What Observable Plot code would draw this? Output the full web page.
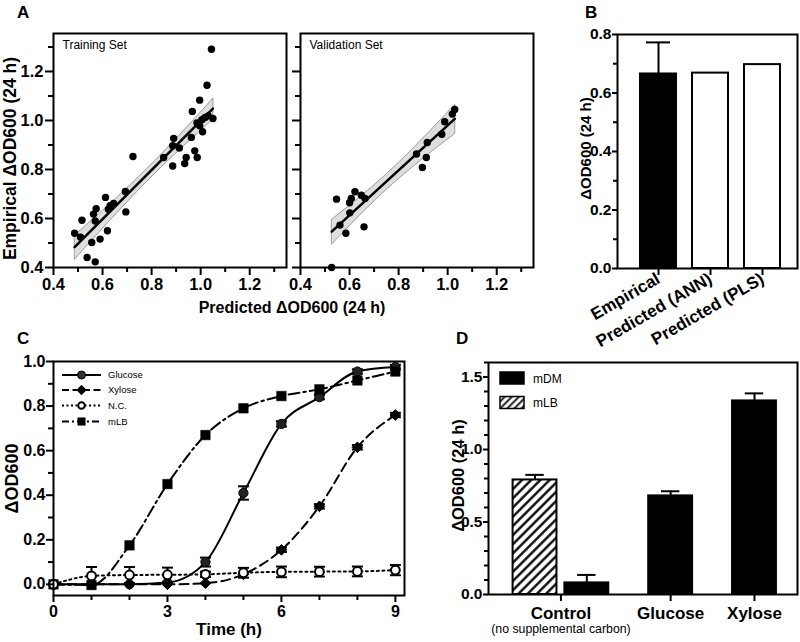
<!DOCTYPE html>
<html><head><meta charset="utf-8">
<script src="https://cdn.jsdelivr.net/npm/d3@7"></script>
<script src="https://cdn.jsdelivr.net/npm/@observablehq/plot@0.6"></script>
<style>
html,body{margin:0;padding:0;background:#fff;}
#fig{position:relative;width:800px;height:642px;overflow:hidden;background:#fff;font-family:"Liberation Sans",Arial,Helvetica,sans-serif;}
#fig > svg{position:absolute;}
</style></head><body><div id="fig"></div>
<script>
// ---------- Panel A data ----------
const trainPredicted = [0.486,0.516,0.510,0.537,0.570,0.556,0.563,0.574,0.570,0.590,0.612,0.620,0.624,0.631,0.645,0.693,0.695,0.724,0.849,0.890,0.886,0.886,0.913,0.935,0.941,0.962,0.966,0.976,0.986,0.996,0.996,1.005,1.008,1.026,1.031,1.044,1.050,1.018,0.985];
const trainEmpirical = [0.540,0.593,0.524,0.441,0.423,0.502,0.618,0.640,0.590,0.516,0.686,0.550,0.638,0.652,0.661,0.710,0.627,0.853,0.849,0.927,0.897,0.814,0.888,0.824,0.849,0.931,1.037,0.876,0.849,1.083,0.978,1.003,0.954,1.144,1.019,1.291,1.008,1.012,0.990];
const valPredicted = [0.527,0.547,0.561,0.585,0.600,0.607,0.601,0.622,0.648,0.663,0.659,0.873,0.897,0.913,0.917,0.976,0.988,1.019,1.029];
const valEmpirical = [0.400,0.679,0.573,0.540,0.664,0.682,0.623,0.709,0.695,0.682,0.566,0.863,0.808,0.849,0.910,0.944,0.995,1.026,1.045];
const aMajorTicks = [0.4,0.6,0.8,1.0,1.2];
const aMinorTicks = [0.5,0.7,0.9,1.1,1.3];

// ---------- Panel B data ----------
const bCategories = ["Empirical","Predicted (ANN)","Predicted (PLS)"];
const bValues = [0.665,0.668,0.697];
const bErrors = [0.108,0,0];
const bMajorTicks = [0,0.2,0.4,0.6,0.8];
const bMinorTicks = [0.1,0.3,0.5,0.7];

// ---------- Panel C data ----------
const hours = [0,1,2,3,4,5,6,7,8,9];
const glucose = [0,0,0,0.008,0.10,0.41,0.72,0.84,0.955,0.975];
const glucoseErr = [0,0,0,0,0.02,0.03,0.012,0.01,0.01,0.01];
const xylose = [0,0,0,0,0.005,0.045,0.155,0.35,0.615,0.76];
const xyloseErr = [0,0,0,0,0,0,0.01,0.01,0.01,0.01];
const nc = [0,0.038,0.042,0.043,0.045,0.052,0.056,0.057,0.058,0.064];
const ncErr = [0,0.04,0.036,0.032,0.012,0.022,0.024,0.022,0.022,0.023];
const mlb = [0,-0.003,0.175,0.45,0.67,0.79,0.845,0.875,0.915,0.955];
const mlbErr = [0,0,0,0,0,0,0,0,0,0];
const cSeriesNames = ["Glucose","Xylose","N.C.","mLB"];
const cXMajor = [0,3,6,9], cXMinor = [1,2,4,5,7,8];
const cYMajor = [0,0.2,0.4,0.6,0.8,1.0], cYMinor = [0.1,0.3,0.5,0.7,0.9];

// ---------- Panel D data ----------
const dGroups = ["Control","Glucose","Xylose"];
const dGroupMedia = [["mLB","mDM"],["mDM"],["mDM"]];
const dValues = [[0.79,0.08],[0.68],[1.335]];
const dErrors = [[0.035,0.055],[0.032],[0.052]];
const dYMajor = [0,0.5,1.0,1.5];
const dYMinor = [0.1,0.2,0.3,0.4,0.6,0.7,0.8,0.9,1.1,1.2,1.3,1.4,1.6];

// ---------- helpers ----------
const FONT = '"Liberation Sans", Arial, Helvetica, sans-serif';
const baseStyle = {fontFamily: FONT, fontSize: "16px", fontWeight: "bold", background: "transparent", color: "black", overflow: "visible"};
const fig = document.getElementById("fig");
function place(svg, left, top) { svg.style.left = left + "px"; svg.style.top = top + "px"; fig.appendChild(svg); return svg; }
const blank = () => "";
function yAxes(major, minor, fmt, o) {
  return [
    Plot.axisY({ticks: major, tickSize: o.size, tickPadding: o.pad, strokeWidth: 2, tickFormat: fmt, label: null, fontSize: o.font, fontWeight: "bold"}),
    Plot.axisY({ticks: minor, tickSize: o.minor, strokeWidth: 2, tickFormat: blank, label: null})
  ];
}
function xAxes(major, minor, fmt, o) {
  return [
    Plot.axisX({ticks: major, tickSize: o.size, tickPadding: o.pad, strokeWidth: 2, tickFormat: fmt, label: null, fontSize: o.font, fontWeight: "bold"}),
    Plot.axisX({ticks: minor, tickSize: o.minor, strokeWidth: 2, tickFormat: blank, label: null})
  ];
}
function outlineBand(svg) {
  d3.select(svg).selectAll('g[aria-label="linear-regression"] path').each(function() {
    if (this.getAttribute("fill") !== "none") {
      this.setAttribute("stroke", "#777");
      this.setAttribute("stroke-width", "0.7");
    }
  });
}

// ---------- Panel A ----------
function panelA(pred, emp, title, showY, width, ml, mr) {
  const data = pred.map((p, i) => ({predicted: p, empirical: emp[i]}));
  const ax = {size: 8, pad: 2, minor: 5, font: 16.5};
  const marks = [
    Plot.linearRegressionY(data, {x: "predicted", y: "empirical", ci: 0.95, fill: "#dedede", fillOpacity: 1, stroke: "black", strokeWidth: 2.5}),
    Plot.dot(data, {x: "predicted", y: "empirical", r: 3.7, fill: "black"}),
    Plot.frame({strokeWidth: 2}),
    ...xAxes(aMajorTicks, aMinorTicks, ".1f", {...ax, pad: 3}),
    ...yAxes(aMajorTicks, aMinorTicks, showY ? ".1f" : blank, ax),
    Plot.text([title], {frameAnchor: "top-left", textAnchor: "start", lineAnchor: "middle", dx: 9, dy: 12, fontSize: 12, fontWeight: "normal"})
  ];
  if (showY) marks.push(Plot.text(["Empirical ΔOD600 (24 h)"], {frameAnchor: "left", rotate: -90, textAnchor: "middle", lineAnchor: "middle", dx: -43, dy: 8, fontSize: 17.5}));
  const svg = Plot.plot({
    width, height: 320, marginLeft: ml, marginRight: mr, marginTop: 33, marginBottom: 53,
    style: baseStyle,
    x: {domain: [0.4, 1.35], label: null},
    y: {domain: [0.4, 1.355], label: null},
    marks
  });
  outlineBand(svg);
  return svg;
}
place(panelA(trainPredicted, trainEmpirical, "Training Set", true, 290, 53, 4), 0, 0);
place(panelA(valPredicted, valEmpirical, "Validation Set", false, 250, 10, 7), 290, 0);

// ---------- Panel B ----------
{
  const bData = bCategories.map((c, i) => ({category: c, value: bValues[i], err: bErrors[i]}));
  const withErr = bData.filter(d => d.err > 0);
  const svg = Plot.plot({
    width: 260, height: 330, marginLeft: 77, marginRight: 3, marginTop: 34, marginBottom: 62,
    style: baseStyle,
    x: {domain: bCategories, padding: 0.31, insetLeft: 6, insetRight: 1, label: null},
    y: {domain: [0, 0.8], label: null},
    marks: [
      Plot.ruleX(withErr, {x: "category", y1: "value", y2: d => d.value + d.err, strokeWidth: 2}),
      Plot.tickY(withErr, {x: "category", y: d => d.value + d.err, strokeWidth: 2, insetLeft: 6, insetRight: 6}),
      Plot.barY(bData.filter((d, i) => i === 0), {x: "category", y: "value", fill: "black", stroke: "black", strokeWidth: 2}),
      Plot.barY(bData.filter((d, i) => i > 0), {x: "category", y: "value", fill: "white", stroke: "black", strokeWidth: 2}),
      Plot.frame({strokeWidth: 2}),
      Plot.axisX({tickRotate: -30, tickSize: 7, tickPadding: 2, strokeWidth: 2, fontSize: 17, fontWeight: "bold", label: null}),
      ...yAxes(bMajorTicks, bMinorTicks, ".1f", {size: 5, pad: 1, minor: 4, font: 15.5}),
      Plot.text(["ΔOD600 (24 h)"], {frameAnchor: "left", rotate: -90, textAnchor: "middle", lineAnchor: "middle", dx: -31, dy: -3, fontSize: 15})
    ]
  });
  place(svg, 540, 0);
}

// ---------- Panel C ----------
{
  const seriesVals = [glucose, xylose, nc, mlb];
  const seriesErr = [glucoseErr, xyloseErr, ncErr, mlbErr];
  const cData = cSeriesNames.flatMap((s, k) => hours.map((t, i) => ({series: s, t, v: seriesVals[k][i], e: seriesErr[k][i]})));
  const of = s => cData.filter(d => d.series === s);
  const errData = cData.filter(d => d.e > 0);
  const cap = {draw(ctx) { ctx.moveTo(-5.5, 0); ctx.lineTo(5.5, 0); }};
  const svg = Plot.plot({
    width: 420, height: 322, marginLeft: 53, marginRight: 16, marginTop: 41, marginBottom: 47,
    style: baseStyle,
    x: {domain: [0, 9.24], label: null},
    y: {domain: [-0.05, 1.0], label: null},
    marks: [
      Plot.line(of("Glucose"), {x: "t", y: "v", curve: "monotone-x", strokeWidth: 2}),
      Plot.line(of("Xylose"), {x: "t", y: "v", curve: "monotone-x", strokeWidth: 2, strokeDasharray: "9,5"}),
      Plot.line(of("N.C."), {x: "t", y: "v", curve: "monotone-x", strokeWidth: 2, strokeDasharray: "2,3.5"}),
      Plot.line(of("mLB"), {x: "t", y: "v", curve: "monotone-x", strokeWidth: 2, strokeDasharray: "11,4,2.5,4"}),
      Plot.ruleX(errData, {x: "t", y1: d => d.v - d.e, y2: d => d.v + d.e, strokeWidth: 2}),
      Plot.dot(errData, {x: "t", y: d => d.v + d.e, symbol: cap, fill: "none", stroke: "black", strokeWidth: 2}),
      Plot.dot(errData, {x: "t", y: d => d.v - d.e, symbol: cap, fill: "none", stroke: "black", strokeWidth: 2}),
      Plot.dot(of("Glucose"), {x: "t", y: "v", r: 4.6, fill: "#222", stroke: "black", strokeWidth: 1}),
      Plot.dot(of("Xylose"), {x: "t", y: "v", symbol: "diamond2", r: 4.8, fill: "black", stroke: "black", strokeWidth: 1}),
      Plot.dot(of("mLB"), {x: "t", y: "v", symbol: "square", r: 5.4, fill: "black", stroke: "black", strokeWidth: 0.5}),
      Plot.dot(of("N.C."), {x: "t", y: "v", r: 4.4, fill: "white", stroke: "black", strokeWidth: 2}),
      Plot.frame({strokeWidth: 2}),
      ...xAxes(cXMajor, cXMinor, d => String(d), {size: 7, pad: 3, minor: 5, font: 16}),
      ...yAxes(cYMajor, cYMinor, ".1f", {size: 7, pad: 1, minor: 5, font: 16}),
      Plot.text(["ΔOD600"], {frameAnchor: "left", rotate: -90, textAnchor: "middle", lineAnchor: "middle", dx: -41, fontSize: 18}),
      Plot.text(["Time (h)"], {frameAnchor: "bottom", lineAnchor: "middle", dy: 34, fontSize: 17})
    ]
  });
  place(svg, 0, 320);
}

// ---------- Panel D ----------
{
  const OUTER_L = 0.56, INNER = 0.18, GROUP_GAP = 0.91, OUTER_R = 0.48;
  let pos = OUTER_L;
  const dBars = [], dCenters = [];
  dGroups.forEach((g, gi) => {
    const start = pos;
    dGroupMedia[gi].forEach((m, mi) => {
      dBars.push({group: g, medium: m, value: dValues[gi][mi], err: dErrors[gi][mi], x1: pos, x2: pos + 1});
      pos += 1 + INNER;
    });
    pos -= INNER;
    dCenters.push((start + pos) / 2);
    pos += GROUP_GAP;
  });
  const dTotal = pos - GROUP_GAP + OUTER_R;
  const mid = d => (d.x1 + d.x2) / 2;
  const svg = Plot.plot({
    width: 380, height: 322, marginLeft: 68, marginRight: 3, marginTop: 42, marginBottom: 48,
    style: baseStyle,
    x: {domain: [0, dTotal], label: null},
    y: {domain: [0, 1.6], label: null},
    marks: [
      Plot.ruleX(dBars, {x: mid, y1: "value", y2: d => d.value + d.err, strokeWidth: 2}),
      Plot.ruleY(dBars, {y: d => d.value + d.err, x1: d => mid(d) - 0.21, x2: d => mid(d) + 0.21, strokeWidth: 2}),
      Plot.rectY(dBars.filter(d => d.medium === "mDM"), {x1: "x1", x2: "x2", y1: 0, y2: "value", fill: "black", stroke: "black", strokeWidth: 2}),
      Plot.rectY(dBars.filter(d => d.medium === "mLB"), {x1: "x1", x2: "x2", y1: 0, y2: "value", fill: "url(#hatchD)", stroke: "black", strokeWidth: 2}),
      Plot.frame({strokeWidth: 2}),
      Plot.axisX({ticks: dCenters, tickFormat: d => dGroups[dCenters.indexOf(d)], tickSize: 7, tickPadding: 5, strokeWidth: 2, fontSize: 17, fontWeight: "bold", label: null}),
      ...yAxes(dYMajor, dYMinor, ".1f", {size: 5, pad: 1, minor: 4, font: 15.5}),
      Plot.text(["(no supplemental carbon)"], {x: dCenters[0], frameAnchor: "bottom", lineAnchor: "middle", dy: 35, fontSize: 12.3, fontWeight: "normal"}),
      Plot.text(["ΔOD600 (24 h)"], {frameAnchor: "left", rotate: -90, textAnchor: "middle", lineAnchor: "middle", dx: -30, dy: -3, fontSize: 16.5})
    ]
  });
  d3.select(svg).insert("defs", ":first-child").html(
    '<pattern id="hatchD" patternUnits="userSpaceOnUse" width="6.5" height="6.5" patternTransform="rotate(45)">' +
    '<rect width="6.5" height="6.5" fill="white"/><line x1="3.25" y1="0" x2="3.25" y2="6.5" stroke="black" stroke-width="2.3"/></pattern>');
  place(svg, 420, 320);
}

// ---------- Overlay: panel letters, shared label, legends ----------
{
  const ov = d3.select(fig).append("svg").attr("width", 800).attr("height", 642)
    .style("left", "0px").style("top", "0px").style("pointer-events", "none")
    .style("font-family", FONT);
  ov.append("defs").html(
    '<pattern id="hatchL" patternUnits="userSpaceOnUse" width="5" height="5" patternTransform="rotate(45)">' +
    '<rect width="5" height="5" fill="white"/><line x1="2.5" y1="0" x2="2.5" y2="5" stroke="black" stroke-width="1.8"/></pattern>');
  const letters = [["A", 17, 18], ["B", 585, 18], ["C", 17, 344], ["D", 456, 344]];
  letters.forEach(([t, x, y]) => ov.append("text").attr("x", x).attr("y", y).attr("font-size", 17).attr("font-weight", "bold").text(t));
  ov.append("text").attr("x", 292).attr("y", 313).attr("text-anchor", "middle").attr("font-size", 16).attr("font-weight", "bold").text("Predicted ΔOD600 (24 h)");

  // Panel C legend
  const legC = [
    {name: cSeriesNames[0], dash: null, sym: d3.symbolCircle, size: Math.PI * 16, fill: "#333", sw: 1},
    {name: cSeriesNames[1], dash: "7,3.5", sym: d3.symbolDiamond2, size: Math.PI * 18, fill: "black", sw: 1},
    {name: cSeriesNames[2], dash: "2,2.5", sym: d3.symbolCircle, size: Math.PI * 11, fill: "white", sw: 2},
    {name: cSeriesNames[3], dash: "7,3,2,3", sym: d3.symbolSquare, size: Math.PI * 18, fill: "black", sw: 0.5}
  ];
  const rowY = [375, 390, 405.5, 421.5];
  legC.forEach((l, i) => {
    const y = rowY[i];
    const line = ov.append("line").attr("x1", 62).attr("x2", 101).attr("y1", y).attr("y2", y).attr("stroke", "black").attr("stroke-width", 2);
    if (l.dash) line.attr("stroke-dasharray", l.dash);
    ov.append("path").attr("d", d3.symbol(l.sym, l.size)()).attr("transform", `translate(81.5,${y})`)
      .attr("fill", l.fill).attr("stroke", "black").attr("stroke-width", l.sw);
    ov.append("text").attr("x", 108).attr("y", y + 3.4).attr("font-size", 9.5).text(l.name);
  });

  // Panel D legend
  const legD = [["mDM", "black", 372], ["mLB", "url(#hatchL)", 396.5]];
  legD.forEach(([name, fill, y]) => {
    ov.append("rect").attr("x", 500).attr("y", y).attr("width", 24).attr("height", 12).attr("fill", fill).attr("stroke", "black").attr("stroke-width", 1.5);
    ov.append("text").attr("x", 533).attr("y", y + 10.5).attr("font-size", 12).text(name);
  });
}
</script></body></html>
